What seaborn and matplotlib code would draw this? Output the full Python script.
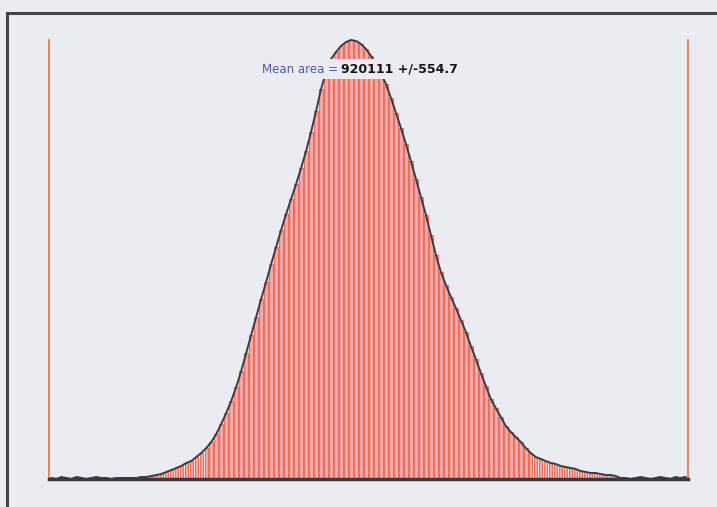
import numpy as np
import pandas as pd
import matplotlib
matplotlib.use("Agg")
import matplotlib.pyplot as plt
import seaborn as sns
from matplotlib.lines import Line2D

# histogram counts per bin
counts = [1, 0, 2, 1, 0, 2, 1, 0, 1, 2,
          1, 1, 0, 1, 1, 1, 1, 1, 2, 2,
          3, 4, 5, 7, 9, 11, 13, 16, 18, 22,
          26, 31, 37, 45, 55, 66, 78, 92, 108, 126,
          144, 162, 180, 197, 215, 232, 249, 265, 280, 295,
          311, 328, 347, 368, 390, 407, 420, 427, 433, 437,
          439, 438, 435, 430, 423, 414, 405, 395, 381, 366,
          351, 335, 318, 300, 282, 264, 244, 224, 207, 194,
          182, 171, 159, 147, 133, 120, 106, 93, 80, 71,
          62, 53, 47, 42, 37, 31, 26, 22, 20, 18,
          16, 15, 13, 12, 11, 10, 8, 7, 6, 6,
          5, 4, 4, 3, 1, 1, 0, 1, 2, 1,
          0, 1, 2, 1, 0, 2, 1, 2]
label_mean = "Mean area = "
label_value = "920111 +/-554.7"

n_bins = len(counts)
centers = np.arange(n_bins) + 0.5
data = pd.DataFrame({"bin": centers, "count": counts})

bg = "#ebebf2"
fig = plt.figure(figsize=(7.17, 5.07), dpi=100, facecolor=bg)
ax = fig.add_axes([49 / 717, 28 / 507, 639 / 717, 439 / 507])
ax.set_facecolor(bg)

sns.histplot(data=data, x="bin", weights="count", bins=n_bins,
             binrange=(0, n_bins), shrink=0.7,
             color="#f4a9ac", edgecolor="#ec7058", linewidth=0.8, alpha=1,
             ax=ax)
sns.lineplot(data=data, x="bin", y="count", color="#3a3a48", lw=1.4, ax=ax,
             clip_on=False, zorder=4)

ax.set_xlim(0, n_bins)
ax.set_ylim(0, max(counts))
ax.set_xticks([])
ax.set_yticks([])
ax.set_xlabel("")
ax.set_ylabel("")
ax.spines["top"].set_visible(False)
for side in ["left", "right"]:
    ax.spines[side].set_color("#e8785a")
    ax.spines[side].set_linewidth(1.3)
ax.spines["bottom"].set_color("#3a3a3a")
ax.spines["bottom"].set_linewidth(2.5)
ax.spines["bottom"].set_zorder(5)

# caption over the peak
box = dict(facecolor=bg, edgecolor="none", pad=2.5)
ax.text(58.6, 410, label_mean, color="#4a5aa8", fontsize=8.5, ha="right",
        va="center", bbox=box, zorder=6)
ax.text(58.4, 410, label_value, color="#151515", fontsize=9,
        fontweight="bold", ha="left", va="center", bbox=box, zorder=6)

# page frame of the scan
fig.add_artist(Line2D([7 / 717, 1], [1 - 13 / 507, 1 - 13 / 507],
                      color="#44444c", lw=2.2))
fig.add_artist(Line2D([7 / 717, 7 / 717], [0, 1 - 13 / 507],
                      color="#44444c", lw=2.2))

fig.savefig("out.png", dpi=100, facecolor=bg)
